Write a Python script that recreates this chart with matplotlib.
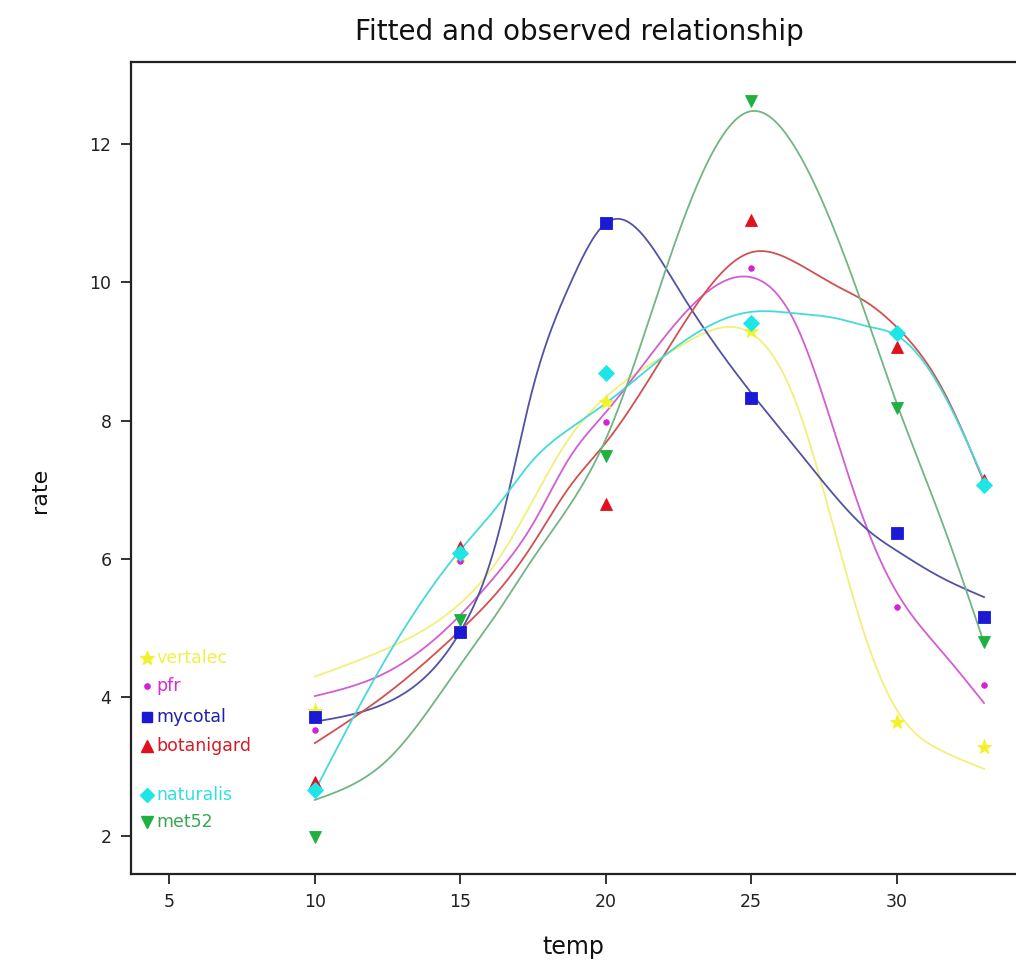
import numpy as np
import matplotlib
matplotlib.use("Agg")
import matplotlib.pyplot as plt

# ---------------- data ----------------
series_names = ["vertalec", "pfr", "mycotal", "botanigard", "naturalis", "met52"]
temp = [10, 15, 20, 25, 30, 33]

# observed rates
vertalec = [3.80, 6.05, 8.27, 9.30, 3.65, 3.29]
pfr = [3.53, 5.97, 7.98, 10.20, 5.31, 4.18]
mycotal = [3.72, 4.95, 10.85, 8.32, 6.38, 5.16]
botanigard = [2.78, 6.17, 6.79, 10.90, 9.06, 7.14]
naturalis = [2.66, 6.08, 8.69, 9.41, 9.26, 7.07]
met52 = [1.99, 5.12, 7.49, 12.61, 8.18, 4.80]

# fitted curves at these temperatures
fit_temp = [10, 12.5, 15, 16.25, 17.5, 18.75, 20, 22.5, 25, 26.5, 28, 29, 30, 31.5, 33]
fit_vertalec = [4.30, 4.71, 5.36, 5.96, 6.85, 7.75, 8.34, 9.06, 9.26, 8.30, 6.20, 4.78, 3.82, 3.24, 2.97]
fit_pfr = [4.02, 4.37, 5.19, 5.78, 6.51, 7.46, 8.12, 9.45, 10.07, 9.42, 7.65, 6.42, 5.52, 4.69, 3.92]
fit_mycotal = [3.65, 3.93, 4.95, 6.27, 8.48, 9.95, 10.85, 9.90, 8.40, 7.62, 6.85, 6.42, 6.12, 5.74, 5.45]
fit_botanigard = [3.34, 4.06, 4.97, 5.51, 6.22, 7.04, 7.68, 9.28, 10.43, 10.29, 9.93, 9.70, 9.35, 8.51, 7.11]
fit_naturalis = [2.65, 4.60, 6.13, 6.75, 7.43, 7.88, 8.25, 9.09, 9.57, 9.55, 9.47, 9.36, 9.23, 8.47, 7.14]
fit_met52 = [2.52, 3.10, 4.47, 5.21, 6.01, 6.77, 7.73, 10.71, 12.47, 11.95, 10.60, 9.45, 8.25, 6.60, 4.79]

x_ticks = [5, 10, 15, 20, 25, 30]
y_ticks = [2, 4, 6, 8, 10, 12]

observed = [vertalec, pfr, mycotal, botanigard, naturalis, met52]
fitted = [fit_vertalec, fit_pfr, fit_mycotal, fit_botanigard, fit_naturalis, fit_met52]

# ---------------- styles ----------------
marker_colors = ["#f2f22a", "#d81fd8", "#1a1ad6", "#e0101c", "#1fe6e6", "#1fb040"]
line_colors = ["#f0f07a", "#d25ed2", "#5252a4", "#d25050", "#45dada", "#72b484"]
text_colors = ["#f0f04a", "#d82ad8", "#2020b0", "#d81a24", "#30e0e0", "#38a850"]
markers = ["*", "o", "s", "^", "D", "v"]
msizes = [11, 4, 8, 9, 8, 9]


def natural_spline(x, y, xn):
    x = np.asarray(x, float)
    y = np.asarray(y, float)
    n = len(x)
    h = np.diff(x)
    A = np.zeros((n, n))
    b = np.zeros(n)
    A[0, 0] = 1.0
    A[-1, -1] = 1.0
    for i in range(1, n - 1):
        A[i, i - 1] = h[i - 1]
        A[i, i] = 2 * (h[i - 1] + h[i])
        A[i, i + 1] = h[i]
        b[i] = 3 * ((y[i + 1] - y[i]) / h[i] - (y[i] - y[i - 1]) / h[i - 1])
    c = np.linalg.solve(A, b)
    bb = (y[1:] - y[:-1]) / h - h * (2 * c[:-1] + c[1:]) / 3
    dd = (c[1:] - c[:-1]) / (3 * h)
    idx = np.clip(np.searchsorted(x, xn) - 1, 0, n - 2)
    t = xn - x[idx]
    return y[idx] + bb[idx] * t + c[idx] * t**2 + dd[idx] * t**3


fig = plt.figure(figsize=(10.16, 9.67), dpi=100)
ax = fig.add_axes([0.1289, 0.0962, 0.8711, 0.8397])

xs = np.linspace(fit_temp[0], fit_temp[-1], 500)
for i in range(len(series_names)):
    ax.plot(xs, natural_spline(fit_temp, fitted[i], xs), color=line_colors[i], lw=1.3, zorder=2)

for i in range(len(series_names)):
    ax.plot(temp, observed[i], linestyle="none", marker=markers[i], ms=msizes[i],
            color=marker_colors[i], markeredgewidth=0.6, markeredgecolor=marker_colors[i], zorder=3)

# in-plot legend
leg_y = [4.57, 4.17, 3.72, 3.30, 2.59, 2.20]
for i in range(len(series_names)):
    ax.plot([4.23], [leg_y[i]], linestyle="none", marker=markers[i], ms=msizes[i] * 0.95,
            color=marker_colors[i], zorder=3, clip_on=False)
    ax.text(4.55, leg_y[i], series_names[i], color=text_colors[i], fontsize=12.5,
            va="center", ha="left")

ax.set_xlim(3.68, 34.1)
ax.set_ylim(1.45, 13.18)
ax.set_xticks(x_ticks)
ax.set_yticks(y_ticks)
ax.set_xticklabels([str(v) for v in x_ticks])
ax.set_yticklabels([str(v) for v in y_ticks])
ax.tick_params(axis="both", direction="out", length=7, width=1.3, labelsize=12.5,
               color="#222222", labelcolor="#222222", pad=7)
for s in ["left", "bottom", "top"]:
    ax.spines[s].set_linewidth(1.6)
    ax.spines[s].set_color("#222222")
ax.spines["right"].set_visible(False)

fig.text(0.570, 0.967, "Fitted and observed relationship", ha="center", va="center",
         fontsize=20, color="#111111")
fig.text(0.564, 0.021, "temp", ha="center", va="center", fontsize=17, color="#111111")
fig.text(0.039, 0.493, "rate", ha="center", va="center", rotation=90, fontsize=16,
         color="#111111")

fig.savefig("out.png", dpi=100)
